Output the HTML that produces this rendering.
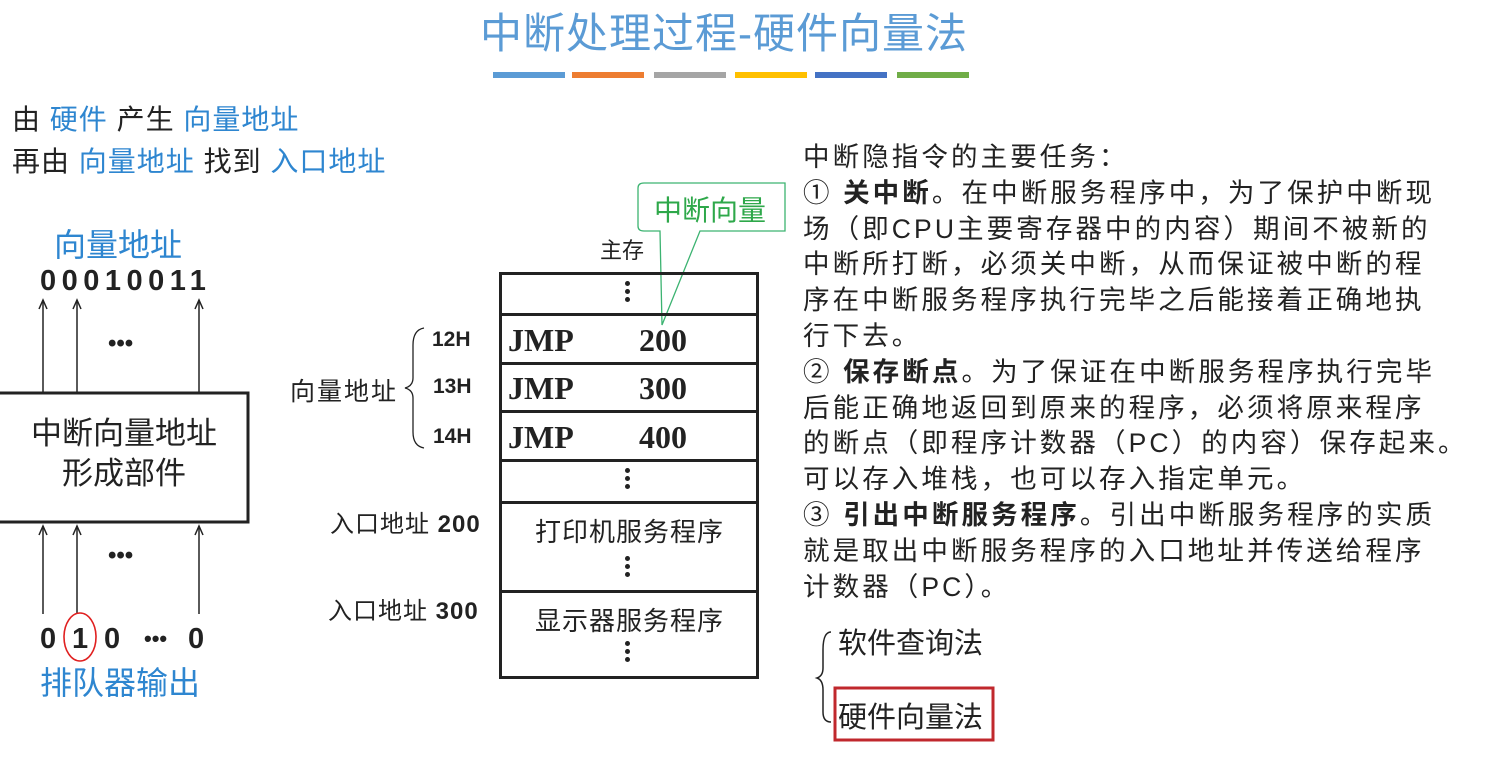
<!DOCTYPE html>
<html><head><meta charset="utf-8"><style>
body{margin:0;width:1498px;height:762px;background:#fff;position:relative;overflow:hidden;font-family:"Liberation Sans","Noto Sans CJK SC",sans-serif;color:#222}
.a{position:absolute;white-space:nowrap}
.b{color:#2e86d0}
.rt{position:absolute;left:803px;top:140px;font-size:26.5px;line-height:35.8px;letter-spacing:3.1px;white-space:pre}
.rt b{font-weight:bold}
.row{position:absolute;left:499px;width:260px;border-top:3px solid #222}
.dots{position:absolute;left:625px;width:5px;font-size:0}
.dots i{display:block;width:5px;height:5px;border-radius:50%;background:#222;margin-bottom:3px}
.jmp{position:absolute;font-family:"Liberation Serif",serif;font-weight:bold;font-size:32px}
.addr{position:absolute;font-weight:bold;font-size:21px}
</style></head><body>
<div class="a" style="left:480px;top:0px;font-size:42px;color:#5b9bd5;letter-spacing:1px">中断处理过程-硬件向量法</div>
<div class="a" style="left:493px;top:72px;width:72px;height:6px;background:#5b9bd5"></div>
<div class="a" style="left:572px;top:72px;width:72px;height:6px;background:#ed7d31"></div>
<div class="a" style="left:654px;top:72px;width:72px;height:6px;background:#a5a5a5"></div>
<div class="a" style="left:735px;top:72px;width:72px;height:6px;background:#ffc000"></div>
<div class="a" style="left:815px;top:72px;width:72px;height:6px;background:#4472c4"></div>
<div class="a" style="left:897px;top:72px;width:72px;height:6px;background:#70ad47"></div>

<div class="a" style="left:12px;top:98px;font-size:28px;letter-spacing:1px">由 <span class="b">硬件</span> 产生 <span class="b">向量地址</span></div>
<div class="a" style="left:12px;top:140px;font-size:28px;letter-spacing:1px">再由 <span class="b">向量地址</span> 找到 <span class="b">入口地址</span></div>

<div class="a b" style="left:54px;top:220px;font-size:32px">向量地址</div>
<div class="a" style="left:40px;top:265px;font-size:29px;font-weight:bold;letter-spacing:5.5px">00010011</div>
<svg class="a" style="left:0;top:0" width="1498" height="762">
<g stroke="#222" stroke-width="1.5" fill="none">
<line x1="43" y1="392" x2="43" y2="300"/><path d="M39,309 L43,300 L47,309"/>
<line x1="77" y1="392" x2="77" y2="300"/><path d="M73,309 L77,300 L81,309"/>
<line x1="199" y1="392" x2="199" y2="300"/><path d="M195,309 L199,300 L203,309"/>
<line x1="43" y1="614" x2="43" y2="526"/><path d="M39,535 L43,526 L47,535"/>
<line x1="77" y1="614" x2="77" y2="526"/><path d="M73,535 L77,526 L81,535"/>
<line x1="199" y1="614" x2="199" y2="526"/><path d="M195,535 L199,526 L203,535"/>
</g>
<rect x="-2" y="393" width="250" height="129" fill="none" stroke="#222" stroke-width="3"/>
<ellipse cx="80" cy="637" rx="16" ry="24" fill="none" stroke="#e02020" stroke-width="1.6"/>
<path d="M424,328 Q413,330 413,345 L413,378 Q413,386 405,388 Q413,390 413,398 L413,432 Q413,446 424,448" fill="none" stroke="#222" stroke-width="1.3"/>
<path d="M638,188 Q638,183 644,183 L785,183 L785,231 L700,231 L662,325 L660,231 L644,231 Q638,231 638,226 Z" fill="#fff" stroke="#3cb371" stroke-width="1.3"/>
<rect x="835" y="688" width="158" height="52" fill="none" stroke="#c0282d" stroke-width="3"/>
<path d="M831,632 Q823,632 823,650 L823,668 Q823,676 817,678 Q823,680 823,690 L823,712 Q823,722 831,722" fill="none" stroke="#222" stroke-width="1.5"/>
</svg>
<div class="a" style="left:108px;top:330px;font-size:24px;font-weight:bold">•••</div>
<div class="a" style="left:0;top:414px;width:248px;text-align:center;font-size:31px;line-height:40px">中断向量地址<br>形成部件</div>
<div class="a" style="left:108px;top:542px;font-size:24px;font-weight:bold">•••</div>
<div class="a" style="left:40px;top:623px;font-size:29px;font-weight:bold">0</div>
<div class="a" style="left:72px;top:623px;font-size:29px;font-weight:bold">1</div>
<div class="a" style="left:104px;top:623px;font-size:29px;font-weight:bold">0</div>
<div class="a" style="left:144px;top:626px;font-size:22px;font-weight:bold">•••</div>
<div class="a" style="left:188px;top:623px;font-size:29px;font-weight:bold">0</div>
<div class="a b" style="left:40px;top:658px;font-size:32px">排队器输出</div>

<div class="a" style="left:654px;top:189px;font-size:28px;color:#2ea84a">中断向量</div>
<div class="a" style="left:600px;top:233px;font-size:22px">主存</div>
<div class="a" style="left:499px;top:272px;width:254px;height:404px;border-left:3px solid #222;border-right:3px solid #222"></div>
<div class="row" style="top:272px"></div>
<div class="row" style="top:313px"></div>
<div class="row" style="top:362px"></div>
<div class="row" style="top:410px"></div>
<div class="row" style="top:459px"></div>
<div class="row" style="top:501px"></div>
<div class="row" style="top:590px"></div>
<div class="row" style="top:676px"></div>
<div class="dots" style="top:281px"><i></i><i></i><i></i></div>
<div class="dots" style="top:468px"><i></i><i></i><i></i></div>
<div class="dots" style="top:556px"><i></i><i></i><i></i></div>
<div class="dots" style="top:641px"><i></i><i></i><i></i></div>
<div class="jmp" style="left:508px;top:322px">JMP</div><div class="jmp" style="left:639px;top:322px">200</div>
<div class="jmp" style="left:508px;top:370px">JMP</div><div class="jmp" style="left:639px;top:370px">300</div>
<div class="jmp" style="left:508px;top:419px">JMP</div><div class="jmp" style="left:639px;top:419px">400</div>
<div class="addr" style="left:432px;top:328px">12H</div>
<div class="addr" style="left:433px;top:375px">13H</div>
<div class="addr" style="left:433px;top:425px">14H</div>
<div class="a" style="left:290px;top:372px;font-size:25px;letter-spacing:2px">向量地址</div>
<div class="a" style="left:330px;top:504px;font-size:24px;letter-spacing:1px">入口地址 <b>200</b></div>
<div class="a" style="left:328px;top:591px;font-size:24px;letter-spacing:1px">入口地址 <b>300</b></div>
<div class="a" style="left:535px;top:512px;font-size:26px;letter-spacing:1px">打印机服务程序</div>
<div class="a" style="left:535px;top:601px;font-size:26px;letter-spacing:1px">显示器服务程序</div>

<div class="rt">中断隐指令的主要任务：
① <b>关中断</b>。在中断服务程序中，为了保护中断现
场（即CPU主要寄存器中的内容）期间不被新的
中断所打断，必须关中断，从而保证被中断的程
序在中断服务程序执行完毕之后能接着正确地执
行下去。
② <b>保存断点</b>。为了保证在中断服务程序执行完毕
后能正确地返回到原来的程序，必须将原来程序
的断点（即程序计数器（PC）的内容）保存起来。
可以存入堆栈，也可以存入指定单元。
③ <b>引出中断服务程序</b>。引出中断服务程序的实质
就是取出中断服务程序的入口地址并传送给程序
计数器（PC）。</div>
<div class="a" style="left:838px;top:620px;font-size:29px">软件查询法</div>
<div class="a" style="left:838px;top:694px;font-size:29px">硬件向量法</div>
</body></html>
